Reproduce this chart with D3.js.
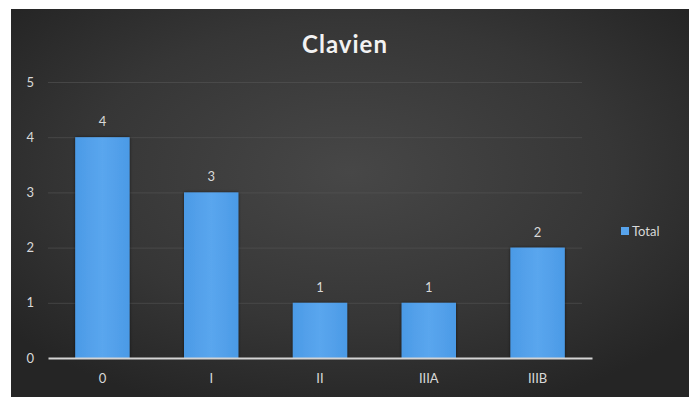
<!DOCTYPE html>
<html>
<head>
<meta charset="utf-8">
<script src="https://cdn.jsdelivr.net/npm/d3@7"></script>
<style>
  html, body { margin: 0; padding: 0; background: #ffffff; }
  svg { display: block; }
</style>
</head>
<body>
<svg id="chart" width="689" height="397"></svg>
<script>
// Clavien grade counts
const categories = ["0", "I", "II", "IIIA", "IIIB"];
const totals = [4, 3, 1, 1, 2];
const yTicks = [0, 1, 2, 3, 4, 5];
const chartTitle = "Clavien";
const seriesName = "Total";

const W = 689, H = 397;
const svg = d3.select("#chart");
const font = "Lato, 'Open Sans', sans-serif";

const defs = svg.append("defs");
const bg = defs.append("radialGradient").attr("id", "bgGrad")
  .attr("cx", "50%").attr("cy", "42%").attr("r", "65%");
bg.append("stop").attr("offset", "0%").attr("stop-color", "#474747");
bg.append("stop").attr("offset", "60%").attr("stop-color", "#363636");
bg.append("stop").attr("offset", "100%").attr("stop-color", "#252525");

const barGrad = defs.append("linearGradient").attr("id", "barGrad")
  .attr("x1", "0").attr("x2", "1").attr("y1", "0").attr("y2", "0");
barGrad.append("stop").attr("offset", "0%").attr("stop-color", "#4b9ae6");
barGrad.append("stop").attr("offset", "50%").attr("stop-color", "#5aa6ee");
barGrad.append("stop").attr("offset", "100%").attr("stop-color", "#4b9ae6");

const shadow = defs.append("filter").attr("id", "barShadow")
  .attr("x", "-20%").attr("y", "-20%").attr("width", "140%").attr("height", "140%");
shadow.append("feDropShadow").attr("dx", 0).attr("dy", 0)
  .attr("stdDeviation", 1.5).attr("flood-color", "#000").attr("flood-opacity", 0.6);

// Chart panel
svg.append("rect").attr("x", 11).attr("y", 9)
  .attr("width", W - 11).attr("height", H - 9)
  .attr("fill", "url(#bgGrad)");

const plot = { left: 48, right: 592, top: 82, bottom: 358 };

const x = d3.scaleBand().domain(categories)
  .range([plot.left, plot.right]).paddingInner(0.5).paddingOuter(0.25);
const y = d3.scaleLinear().domain([0, 5]).range([plot.bottom, plot.top]);

// Gridlines
svg.append("g")
  .attr("transform", `translate(${plot.left},0)`)
  .call(d3.axisLeft(y).tickValues(yTicks.filter(d => d > 0)).tickSize(-(plot.right - plot.left - 10)).tickFormat(""))
  .call(g => g.select(".domain").remove())
  .call(g => g.selectAll("line").attr("stroke", "#555555").attr("stroke-width", 1).attr("opacity", 0.6));

// Y axis labels
svg.append("g")
  .attr("transform", `translate(${plot.left},0)`)
  .call(d3.axisLeft(y).tickValues(yTicks).tickSize(0).tickPadding(14).tickFormat(d3.format("d")))
  .call(g => g.select(".domain").remove())
  .call(g => g.selectAll("text").attr("fill", "#d9d9d9").attr("font-family", font).attr("font-size", 13));

// Bars
svg.append("g").selectAll("rect").data(totals).join("rect")
  .attr("x", (d, i) => x(categories[i]))
  .attr("y", d => y(d))
  .attr("width", x.bandwidth())
  .attr("height", d => y(0) - y(d))
  .attr("fill", "url(#barGrad)")
  .attr("filter", "url(#barShadow)");

// X axis line and labels
svg.append("g")
  .attr("transform", `translate(0,${plot.bottom})`)
  .call(d3.axisBottom(x).tickSize(0).tickPadding(16))
  .call(g => g.select(".domain").attr("stroke", "#d4d4d4").attr("stroke-width", 2))
  .call(g => g.selectAll("text").attr("fill", "#d9d9d9").attr("font-family", font).attr("font-size", 13));

// Value labels
svg.append("g").selectAll("text").data(totals).join("text")
  .attr("x", (d, i) => x(categories[i]) + x.bandwidth() / 2)
  .attr("y", d => y(d) - 11)
  .attr("text-anchor", "middle")
  .attr("fill", "#d9d9d9")
  .attr("font-family", font).attr("font-size", 13)
  .text(d => d);

// Title
svg.append("text")
  .attr("x", 345).attr("y", 53)
  .attr("text-anchor", "middle")
  .attr("fill", "#f2f2f2")
  .attr("font-family", font).attr("font-size", 24).attr("font-weight", "bold")
  .attr("letter-spacing", 1)
  .text(chartTitle);

// Legend
const lg = svg.append("g").attr("transform", "translate(621,227)");
lg.append("rect").attr("width", 8).attr("height", 8).attr("fill", "#57a3ec");
lg.append("text").attr("x", 11).attr("y", 9)
  .attr("fill", "#d9d9d9").attr("font-family", font).attr("font-size", 13)
  .text(seriesName);
</script>
</body>
</html>
